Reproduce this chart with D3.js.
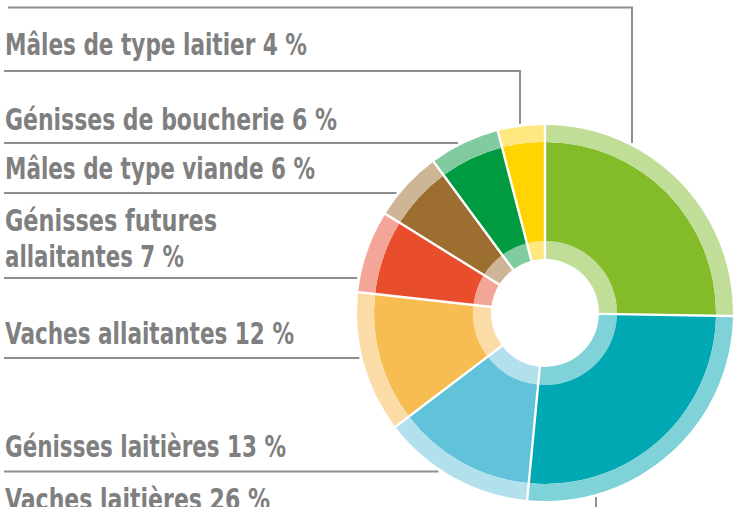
<!DOCTYPE html>
<html><head><meta charset="utf-8">
<script src="https://cdn.jsdelivr.net/npm/d3@7"></script>
<style>html,body{margin:0;padding:0;background:#fff;overflow:hidden}</style>
</head><body><svg id="c" width="738" height="507"></svg>
<script>
// ---- data (clockwise from 12 o'clock) ----
const categories = [null, "Vaches laitières", "Génisses laitières", "Vaches allaitantes", "Génisses futures allaitantes", "Mâles de type viande", "Génisses de boucherie", "Mâles de type laitier"];
const values = [25, 26, 13, 12, 7, 6, 6, 4];
const darkColors  = ["#84bb29", "#00a8b4", "#61c2d9", "#f8bd52", "#e84d2c", "#9c6e30", "#009a41", "#ffd400"];
const lightColors = ["#c0de97", "#7fd2d8", "#b2e0ed", "#fbdca6", "#f3a697", "#cdb596", "#80cba0", "#ffe87f"];

// ---- layout ----
const labelBreakAfter = [0, 0, 0, 0, 2, 0, 0, 0];
const labelBaselines  = [null, [510], [457], [344], [231, 267], [179], [130], [55]];
const labelWidths     = [null, [265], [281], [289], [212, 179], [310], [332], [302]];
const leaderY   = [7.5, 530, 471.5, 358, 278, 193, 143, 71];
const leaderX   = [632, 596, null, null, null, null, null, 520];
const leaderX0  = [8, 4, 4, 4, 4, 4, 4, 4];

const W = 738, H = 507;
const cx = 545, cy = 313;
const r0 = 54, r1 = 72, r2 = 171, R = 188;
const lineColor = "#8e8e8e", textColor = "#7f7f7f";

const svg = d3.select("#c");
const pie = d3.pie().sort(null).value(d => d)(values);

const g = svg.append("g").attr("transform", `translate(${cx},${cy})`);
const pad = 2.4;
const mkArc = (a, b) => d3.arc().innerRadius(a).outerRadius(b).padRadius(R).padAngle(pad / R);
const rings = [
  { arc: mkArc(r0, r1), colors: lightColors },
  { arc: mkArc(r1, r2), colors: darkColors },
  { arc: mkArc(r2, R), colors: lightColors }
];
rings.forEach(ring => {
  g.append("g").selectAll("path").data(pie).join("path")
    .attr("d", ring.arc)
    .attr("fill", (d, i) => ring.colors[i]);
});

// ---- leader lines ----
const rl = R + 3;
const lg = svg.append("g").attr("fill", "none").attr("stroke", lineColor).attr("stroke-width", 2);
values.forEach((v, i) => {
  const y = leaderY[i];
  let pts;
  if (leaderX[i] != null) {
    const x = leaderX[i];
    const dx = x - cx;
    const dy = Math.sqrt(rl * rl - dx * dx);
    const yEnd = y < cy ? cy - dy : cy + dy;
    pts = [[leaderX0[i], y], [x, y], [x, yEnd]];
  } else {
    const dy = y - cy;
    const xEnd = cx - Math.sqrt(rl * rl - dy * dy);
    pts = [[leaderX0[i], y], [xEnd, y]];
  }
  lg.append("path").attr("d", d3.line()(pts));
});

// ---- labels ----
const tg = svg.append("g")
  .attr("font-family", "'Liberation Sans Narrow', 'DejaVu Sans Condensed', 'Roboto', sans-serif")
  .attr("font-weight", "bold")
  .attr("font-size", 31)
  .attr("fill", textColor);
categories.forEach((name, i) => {
  if (!name) return;
  const full = `${name} ${values[i]} %`;
  let lines = [full];
  if (labelBreakAfter[i] > 0) {
    const words = full.split(" ");
    lines = [words.slice(0, labelBreakAfter[i]).join(" "), words.slice(labelBreakAfter[i]).join(" ")];
  }
  lines.forEach((t, k) => {
    tg.append("text")
      .attr("x", 5)
      .attr("y", labelBaselines[i][k])
      .attr("textLength", labelWidths[i][k])
      .attr("lengthAdjust", "spacingAndGlyphs")
      .text(t);
  });
});
</script>
</body></html>
